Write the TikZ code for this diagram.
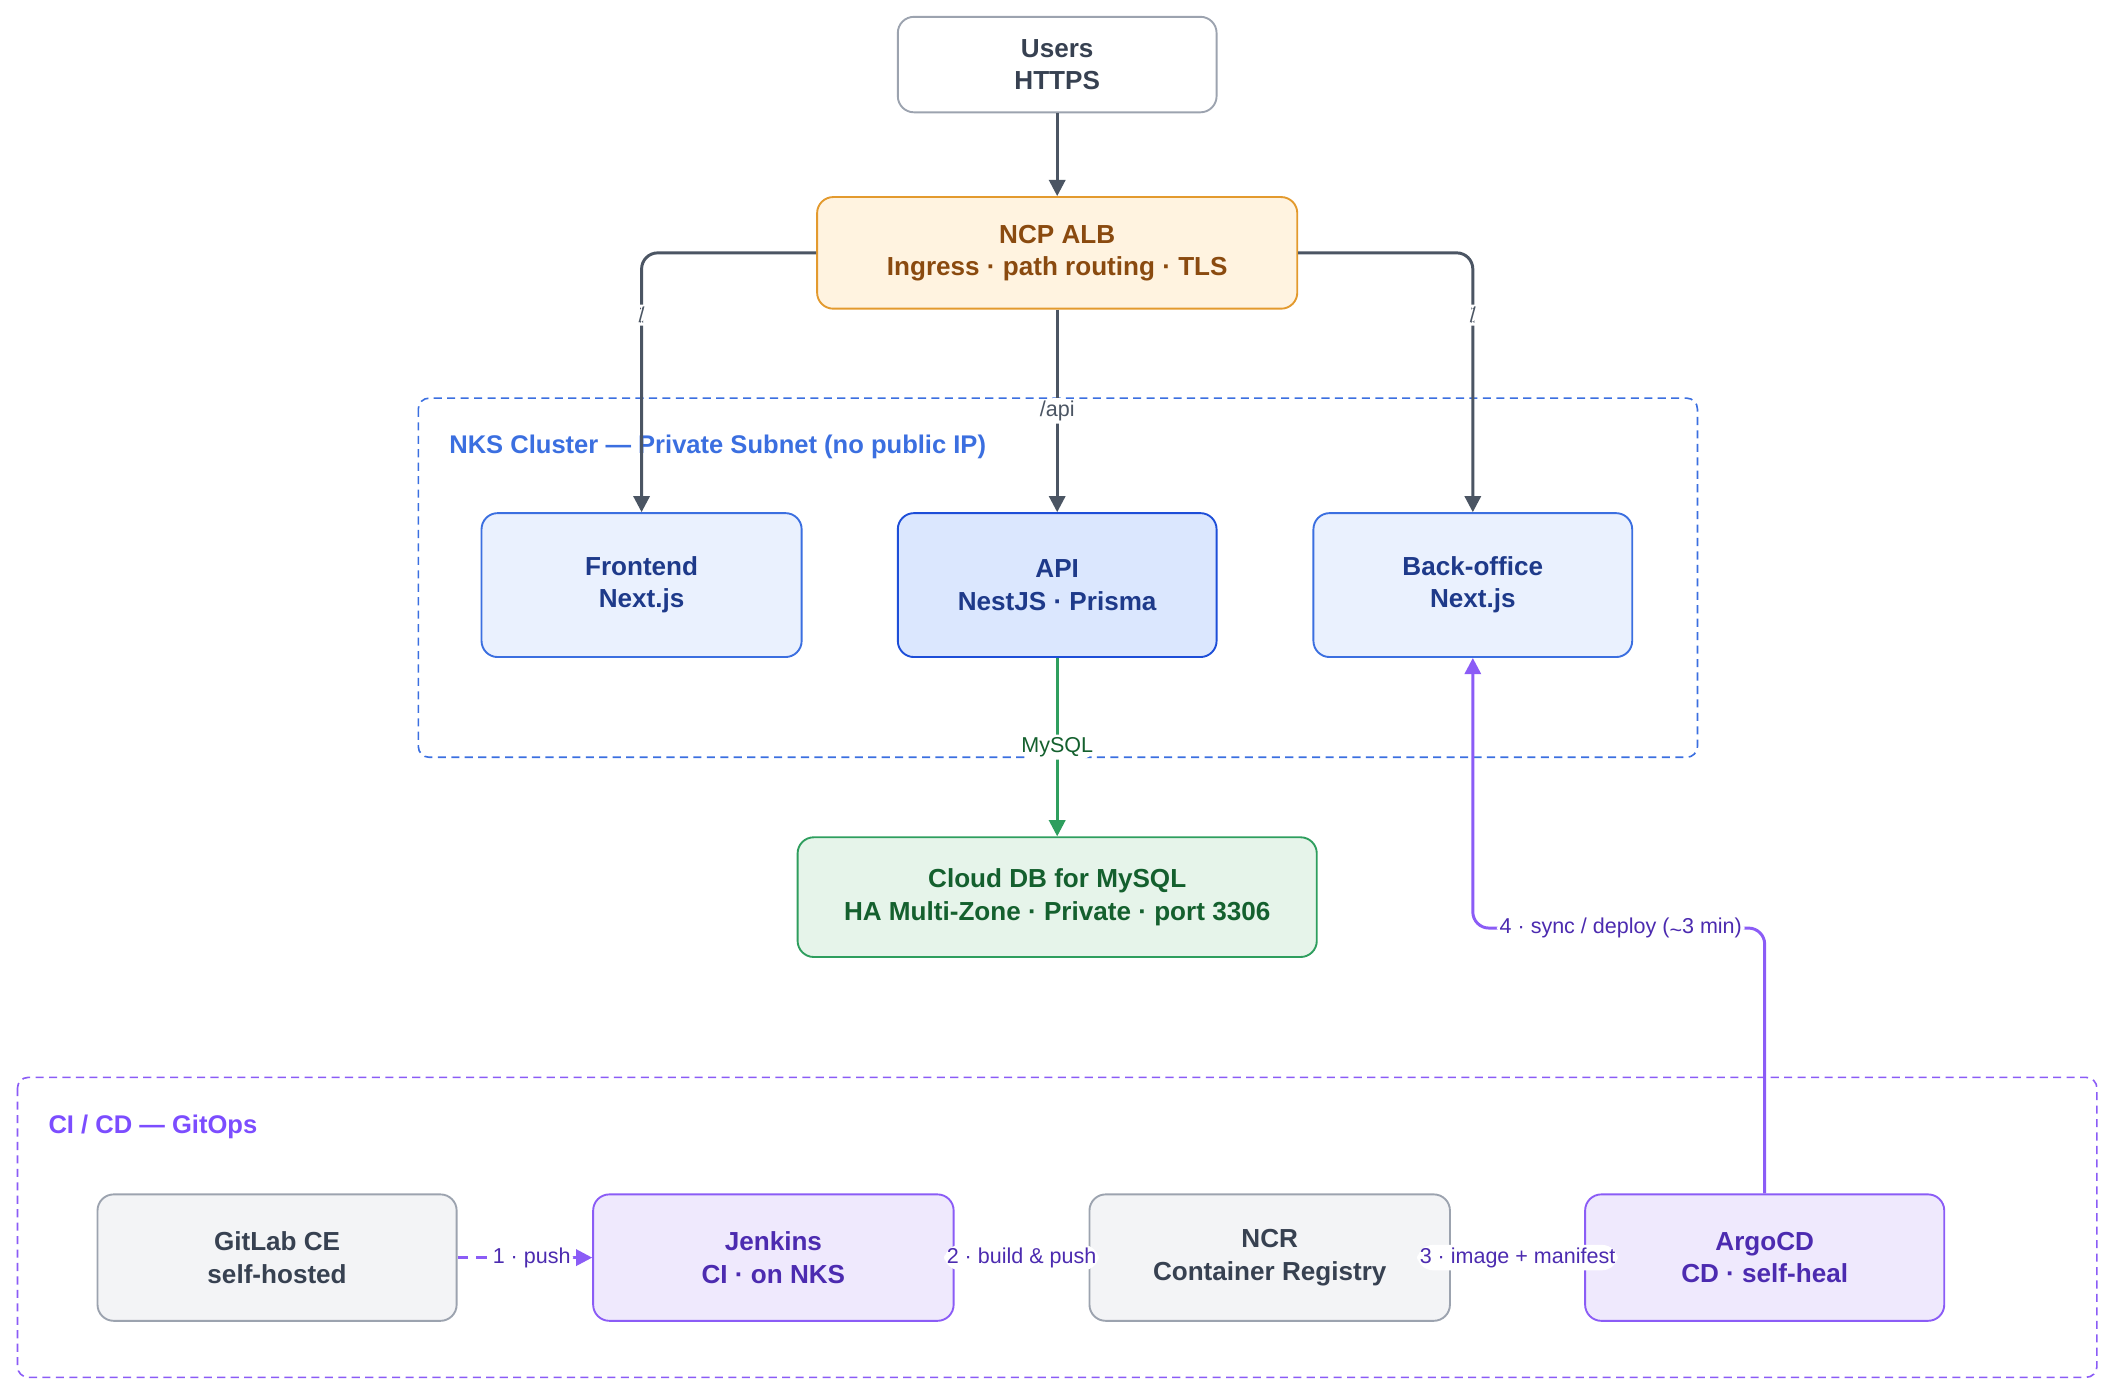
\documentclass[tikz,border=0pt]{standalone}
\usepackage{fontspec}
\setmainfont{Liberation Sans}
\usetikzlibrary{arrows.meta}
\definecolor{edge}{HTML}{4B5563}
\definecolor{gbord}{HTML}{9CA3AF}
\definecolor{gfill}{HTML}{F3F4F6}
\definecolor{gtext}{HTML}{374151}
\definecolor{ofill}{HTML}{FFF3E0}
\definecolor{obord}{HTML}{E39A2E}
\definecolor{otext}{HTML}{8A4A0F}
\definecolor{blab}{HTML}{3B6FE0}
\definecolor{bfill}{HTML}{EAF1FE}
\definecolor{bfill2}{HTML}{DBE7FE}
\definecolor{bbord}{HTML}{3B6FE0}
\definecolor{bbord2}{HTML}{1D4ED8}
\definecolor{btext}{HTML}{1E3A8A}
\definecolor{dfill}{HTML}{E6F4EA}
\definecolor{dbord}{HTML}{2E9E5E}
\definecolor{dtext}{HTML}{14602E}
\definecolor{pfill}{HTML}{EFE9FD}
\definecolor{pbord}{HTML}{8B5CF6}
\definecolor{ptext}{HTML}{4C2BB0}
\definecolor{plab}{HTML}{7C4DFF}
\begin{document}
\begin{tikzpicture}[x=0.5pt,y=-0.5pt,
 box/.style={draw,rounded corners=6pt,line width=0.7pt,align=center,font=\fontsize{9.7}{12}\selectfont\bfseries,inner sep=0pt},
 elab/.style={fill=white,inner sep=1pt,font=\fontsize{8}{9}\selectfont},
 arr/.style={-{Triangle[length=6pt,width=6pt]},line width=1.1pt,rounded corners=6pt},
 grp/.style={draw,dashed,line width=0.6pt,rounded corners=4pt,dash pattern=on 3pt off 2pt},
 glab/.style={anchor=west,font=\fontsize{9.5}{12}\selectfont\bfseries}]
\useasboundingbox (0,0) rectangle (1568,1033);
\draw[grp,blab] (311,296) rectangle (1262,563);
\node[glab,text=blab] at (327,332) {NKS Cluster — Private Subnet (no public IP)};
\draw[grp,pbord] (13,801) rectangle (1559,1024);
\node[glab,text=plab] at (29,838) {CI / CD — GitOps};

\node[box,draw=gbord,fill=white,text=gtext,minimum width=118.5pt,minimum height=35.5pt] (users) at (786,48) {Users\\HTTPS};
\node[box,draw=obord,fill=ofill,text=otext,minimum width=178.5pt,minimum height=41.5pt] (alb) at (786,188) {NCP ALB\\Ingress · path routing · TLS};
\node[box,draw=bbord,fill=bfill,text=btext,minimum width=119pt,minimum height=53.5pt] (fe) at (477,435) {Frontend\\Next.js};
\node[box,draw=bbord2,fill=bfill2,text=btext,minimum width=118.5pt,minimum height=53.5pt] (api) at (786,435) {API\\NestJS · Prisma};
\node[box,draw=bbord,fill=bfill,text=btext,minimum width=118.5pt,minimum height=53.5pt] (bo) at (1095,435) {Back-office\\Next.js};
\node[box,draw=dbord,fill=dfill,text=dtext,minimum width=193pt,minimum height=44.5pt] (db) at (786,667) {Cloud DB for MySQL\\HA Multi-Zone · Private · port 3306};
\node[box,draw=gbord,fill=gfill,text=gtext,minimum width=133.5pt,minimum height=47pt] (git) at (206,935) {GitLab CE\\self-hosted};
\node[box,draw=pbord,fill=pfill,text=ptext,minimum width=134pt,minimum height=47pt] (jen) at (575,935) {Jenkins\\CI · on NKS};
\node[box,draw=gbord,fill=gfill,text=gtext,minimum width=134pt,minimum height=47pt] (ncr) at (944,935) {NCR\\Container Registry};
\node[box,draw=pbord,fill=pfill,text=ptext,minimum width=133.5pt,minimum height=47pt] (argo) at (1312,935) {ArgoCD\\CD · self-heal};

\draw[arr,edge] (users) -- (alb);
\draw[arr,edge] (alb.west) -| node[elab,text=edge,pos=0.62]{/} (fe.north);
\draw[arr,edge] (alb.east) -| node[elab,text=edge,pos=0.62]{/} (bo.north);
\draw[arr,edge] (alb) -- node[elab,text=edge,pos=0.5]{/api} (api);
\draw[arr,dbord] (api) -- node[elab,text=dtext,pos=0.5]{MySQL} (db);
\draw[arr,pbord] (argo.north) |- (1205,690) node[elab,text=ptext]{4 · sync / deploy (\raisebox{-0.3ex}{\char`\~}3 min)} -| (bo.south);
\draw[arr,pbord,dash pattern=on 4pt off 3pt] (git) -- node[elab,text=ptext,pos=0.55]{1 · push} (jen);
\draw[arr,pbord] (jen) -- node[elab,text=ptext]{2 · build \& push} (ncr);
\draw[arr,pbord] (ncr) -- node[elab,text=ptext]{3 · image + manifest} (argo);
\end{tikzpicture}
\end{document}
